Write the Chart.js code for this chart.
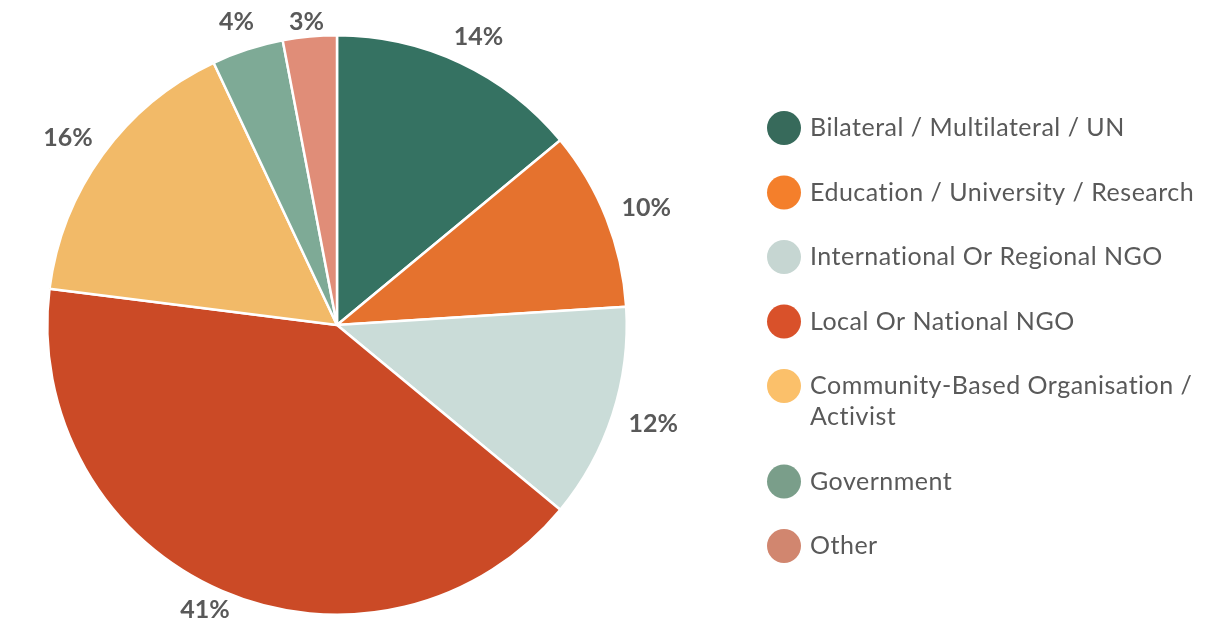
<!DOCTYPE html>
<html>
<head>
<meta charset="utf-8">
<script src="https://cdn.jsdelivr.net/npm/chart.js@4"></script>
<style>
  html, body { margin: 0; padding: 0; background: #fff; }
  #wrap { width: 1209px; height: 622px; }
</style>
</head>
<body>
<div id="wrap"><canvas id="chart" width="1209" height="622"></canvas></div>
<script>
// data
const categories = [
  'Bilateral / Multilateral / UN',
  'Education / University / Research',
  'International Or Regional NGO',
  'Local Or National NGO',
  ['Community-Based Organisation /', 'Activist'],
  'Government',
  'Other'
];
const shares = [14, 10, 12, 41, 16, 4, 3];
const sliceColors = ['#357262', '#E5722E', '#CADCD8', '#CB4A26', '#F2BA68', '#7EAA96', '#E08D78'];
const legendColors = ['#376A5B', '#F47F2B', '#C6D6D2', '#D9512A', '#FBC06A', '#7A9E8A', '#D1866F'];

const TEXT = '#595959';

// percentage labels outside each slice
const outsideLabels = {
  id: 'outsideLabels',
  afterDatasetsDraw(chart) {
    const ctx = chart.ctx;
    const meta = chart.getDatasetMeta(0);
    ctx.save();
    ctx.font = 'bold 25px Lato';
    ctx.fillStyle = TEXT;
    ctx.textAlign = 'center';
    ctx.textBaseline = 'middle';
    meta.data.forEach((arc, i) => {
      const mid = (arc.startAngle + arc.endAngle) / 2;
      const r = arc.outerRadius + 18;
      const txt = shares[i] + '%';
      const w = ctx.measureText(txt).width;
      const h = 22;
      let x = arc.x + Math.cos(mid) * r + Math.cos(mid) * w / 2;
      let y = arc.y + Math.sin(mid) * r + Math.sin(mid) * h / 2;
      y = Math.max(22, Math.min(chart.height - h / 2 - 1, y));
      x = Math.max(w / 2 + 6, x);
      ctx.fillText(txt, x, y);
    });
    ctx.restore();
  }
};

// legend on the right with wrapped entries
const sideLegend = {
  id: 'sideLegend',
  afterDraw(chart) {
    const ctx = chart.ctx;
    const step = 64.5, lineH = 31;
    const markerX = 784, textX = 810, radius = 17;
    let y = 128;
    ctx.save();
    ctx.font = '25px Lato';
    ctx.letterSpacing = '0.5px';
    ctx.textBaseline = 'middle';
    ctx.textAlign = 'left';
    categories.forEach((c, i) => {
      const lines = Array.isArray(c) ? c : [c];
      ctx.beginPath();
      ctx.arc(markerX, y, radius, 0, Math.PI * 2);
      ctx.fillStyle = legendColors[i];
      ctx.fill();
      ctx.fillStyle = TEXT;
      lines.forEach((ln, k) => ctx.fillText(ln, textX, y + k * lineH));
      y += step + (lines.length - 1) * lineH;
    });
    ctx.restore();
  }
};

new Chart(document.getElementById('chart'), {
  type: 'pie',
  data: {
    labels: categories.map(c => Array.isArray(c) ? c.join(' ') : c),
    datasets: [{
      data: shares,
      backgroundColor: sliceColors,
      borderColor: '#ffffff',
      borderWidth: 2.5
    }]
  },
  options: {
    responsive: false,
    animation: false,
    layout: { padding: { left: 46, right: 581, top: 34, bottom: 6 } },
    plugins: {
      legend: { display: false },
      tooltip: { enabled: false }
    }
  },
  plugins: [outsideLabels, sideLegend]
});
</script>
</body>
</html>
